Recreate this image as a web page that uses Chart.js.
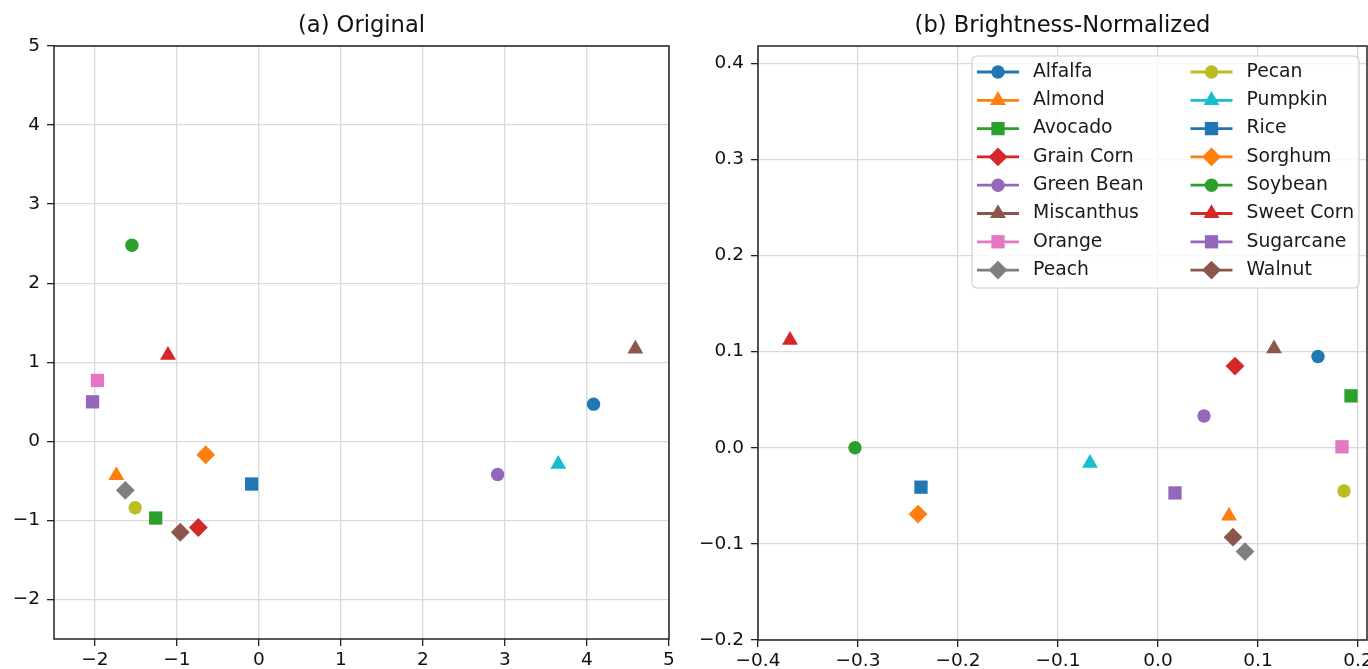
<!DOCTYPE html>
<html>
<head>
<meta charset="utf-8">
<script src="https://cdn.jsdelivr.net/npm/chart.js@4.4.0/dist/chart.umd.min.js"></script>
<style>
html, body { margin: 0; padding: 0; background: #fff; overflow: hidden; width: 1368px; height: 669px; }
#wrapA { position: absolute; left: 0; top: 0; }
#wrapB { position: absolute; left: 690px; top: 0; }
</style>
</head>
<body>
<div id="wrapA"><canvas id="chartA" width="690" height="669"></canvas></div>
<div id="wrapB"><canvas id="chartB" width="720" height="669"></canvas></div>
<script>
// crops, in legend order
var crops = ['Alfalfa', 'Almond', 'Avocado', 'Grain Corn', 'Green Bean', 'Miscanthus', 'Orange', 'Peach',
             'Pecan', 'Pumpkin', 'Rice', 'Sorghum', 'Soybean', 'Sweet Corn', 'Sugarcane', 'Walnut'];

// (a) Original
var origX = [4.08, -1.74, -1.26, -0.74, 2.91, 4.59, -1.97, -1.63, -1.51, 3.65, -0.09, -0.65, -1.55, -1.11, -2.03, -0.96];
var origY = [0.47, -0.43, -0.97, -1.09, -0.42, 1.17, 0.77, -0.62, -0.84, -0.29, -0.54, -0.17, 2.48, 1.09, 0.50, -1.15];

// (b) Brightness-Normalized
var normX = [0.160, 0.071, 0.193, 0.077, 0.046, 0.116, 0.184, 0.087, 0.186, -0.068, -0.237, -0.240, -0.303, -0.368, 0.017, 0.075];
var normY = [0.095, -0.071, 0.054, 0.085, 0.033, 0.103, 0.001, -0.108, -0.045, -0.016, -0.041, -0.069, 0.000, 0.112, -0.047, -0.093];

// tick values
var origXTicks = [-2, -1, 0, 1, 2, 3, 4, 5];
var origYTicks = [-2, -1, 0, 1, 2, 3, 4, 5];
var normXTicks = [-0.4, -0.3, -0.2, -0.1, 0.0, 0.1, 0.2];
var normYTicks = [-0.2, -0.1, 0.0, 0.1, 0.2, 0.3, 0.4];

// styles
var colors = ['#1f77b4', '#ff7f0e', '#2ca02c', '#d62728', '#9467bd', '#8c564b', '#e377c2', '#7f7f7f',
              '#bcbd22', '#17becf', '#1f77b4', '#ff7f0e', '#2ca02c', '#d62728', '#9467bd', '#8c564b'];
var markers = ['circle', 'triangle', 'rect', 'rectRot'];
var markerSize = { circle: 6.7, triangle: 9.2, rect: 9.4, rectRot: 9.4 };

Chart.defaults.font.family = '"DejaVu Sans", sans-serif';

function fmt(v, dec) {
    return Number(v).toFixed(dec).replace('-', '\u2212');
}

function makeDatasets(xs, ys) {
    return crops.map(function (name, i) {
        var m = markers[i % 4];
        return {
            label: name,
            data: [{ x: xs[i], y: ys[i] }],
            pointStyle: m,
            pointRadius: markerSize[m],
            pointHoverRadius: markerSize[m],
            backgroundColor: colors[i],
            borderColor: colors[i],
            borderWidth: 0
        };
    });
}

function axis(pos, min, max, ticks, dec, fitSize) {
    return {
        type: 'linear',
        position: pos,
        min: min,
        max: max,
        afterBuildTicks: function (s) { s.ticks = ticks.map(function (v) { return { value: v }; }); },
        afterFit: function (s) { if (pos === 'left') s.width = fitSize; else s.height = fitSize; },
        grid: { color: '#d9d9d9', lineWidth: 1.3, tickColor: '#222', tickLength: 7, tickWidth: 1.3 },
        border: { display: false },
        ticks: {
            color: '#111',
            font: { size: 18.5 },
            padding: pos === 'left' ? 7 : 3,
            maxRotation: 0,
            autoSkip: false,
            callback: function (v) { return fmt(v, dec); }
        }
    };
}

// spines + title centred on the plot area
var framePlugin = {
    id: 'frame',
    afterDraw: function (chart, args, opts) {
        var ctx = chart.ctx, a = chart.chartArea;
        ctx.save();
        ctx.strokeStyle = '#222';
        ctx.lineWidth = 1.5;
        ctx.strokeRect(a.left, a.top, a.right - a.left, a.bottom - a.top);
        ctx.fillStyle = '#111';
        ctx.font = '22.6px "DejaVu Sans"';
        ctx.textAlign = 'center';
        ctx.textBaseline = 'middle';
        ctx.fillText(opts.title, (a.left + a.right) / 2, 26);
        ctx.restore();
    }
};

// two-column legend in the upper right of the plot area
var legendPlugin = {
    id: 'legend2',
    afterDraw: function (chart) {
        var ctx = chart.ctx, a = chart.chartArea;
        var w = 387, h = 232, rowH = 28.3, colW = 213.5;
        var left = a.right - 8 - w, top = a.top + 10;
        ctx.save();
        ctx.beginPath();
        ctx.roundRect(left, top, w, h, 5);
        ctx.fillStyle = 'rgba(255,255,255,0.8)';
        ctx.fill();
        ctx.strokeStyle = '#d0d0d0';
        ctx.lineWidth = 1.2;
        ctx.stroke();
        ctx.font = '18.8px "DejaVu Sans"';
        ctx.textBaseline = 'middle';
        ctx.textAlign = 'left';
        chart.data.datasets.forEach(function (ds, i) {
            var col = Math.floor(i / 8), row = i % 8;
            var x0 = left + col * colW, y = top + 16 + row * rowH;
            ctx.strokeStyle = ds.borderColor;
            ctx.fillStyle = ds.backgroundColor;
            ctx.lineWidth = 2.8;
            ctx.beginPath();
            ctx.moveTo(x0 + 5, y);
            ctx.lineTo(x0 + 47, y);
            ctx.stroke();
            Chart.helpers.drawPoint(ctx, { pointStyle: ds.pointStyle, radius: ds.pointRadius, rotation: 0, borderWidth: 0 }, x0 + 26, y);
            ctx.fillStyle = '#1a1a1a';
            ctx.fillText(ds.label, x0 + 61, y);
        });
        ctx.restore();
    }
};

function commonOptions(xAxis, yAxis, title, padRight) {
    return {
        responsive: false,
        animation: false,
        layout: { padding: { top: 46, right: padRight, left: 0, bottom: 0 } },
        scales: { x: xAxis, y: yAxis },
        plugins: {
            legend: { display: false },
            tooltip: { enabled: false },
            frame: { title: title }
        }
    };
}

new Chart(document.getElementById('chartA'), {
    type: 'scatter',
    data: { datasets: makeDatasets(origX, origY) },
    options: commonOptions(
        axis('bottom', -2.5, 5, origXTicks, 0, 30),
        axis('left', -2.5, 5, origYTicks, 0, 54),
        '(a) Original', 21),
    plugins: [framePlugin]
});

new Chart(document.getElementById('chartB'), {
    type: 'scatter',
    data: { datasets: makeDatasets(normX, normY) },
    options: commonOptions(
        axis('bottom', -0.4, 0.209, normXTicks, 1, 29),
        axis('left', -0.2, 0.418, normYTicks, 1, 68),
        '(b) Brightness-Normalized', 43),
    plugins: [framePlugin, legendPlugin]
});
</script>
</body>
</html>
